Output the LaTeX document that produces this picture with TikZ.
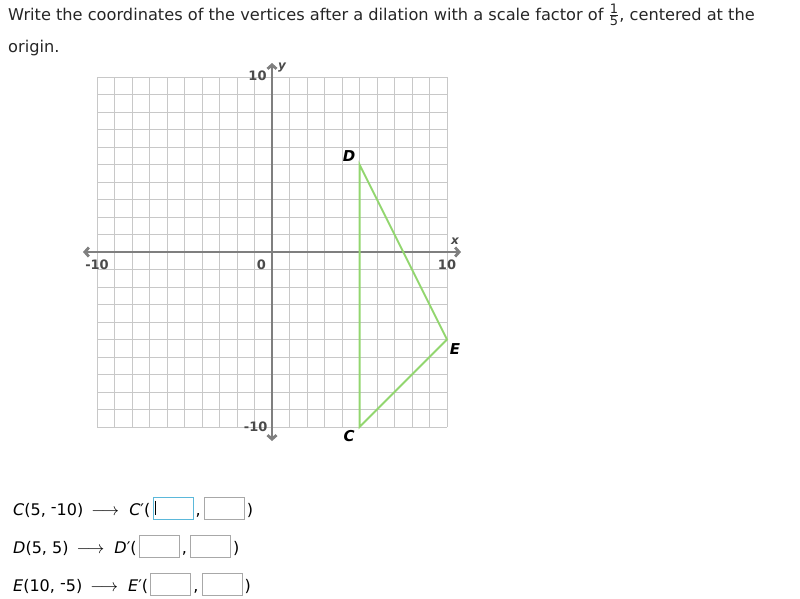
\documentclass[tikz,border=0pt]{standalone}
\usepackage{fontspec}
\setmainfont{DejaVu Sans}
\usetikzlibrary{positioning, arrows.meta}

\definecolor{axisgray}{HTML}{7F7F7F}
\definecolor{gridgray}{HTML}{C8C8C8}
\definecolor{trigreen}{HTML}{92D66F}
\definecolor{labgray}{HTML}{4A4A4A}
\definecolor{boxgray}{HTML}{A8A8A8}
\definecolor{focusblue}{HTML}{5BB8DA}

\newcommand{\hineg}{\raisebox{0.3ex}{-}}

\begin{document}
\begin{tikzpicture}[x=1pt, y=-1pt,
  prompt/.style={anchor=base west, inner sep=0pt, font=\fontsize{16.2}{19}\selectfont, text=black!85},
  axis/.style={axisgray, line width=2.8pt, {Straight Barb[length=4pt,width=9pt]}-{Straight Barb[length=4pt,width=9pt]}},
  axlab/.style={inner sep=0pt, text=labgray, font=\fontsize{13}{15}\selectfont\bfseries},
  vlab/.style={inner sep=0pt, font=\fontsize{15}{17}\selectfont\bfseries\itshape},
  rowtext/.style={inner sep=0pt, font=\fontsize{16}{19}\selectfont},
  ansbox/.style={draw=boxgray, line width=0.8pt, minimum width=40pt, minimum height=22pt, inner sep=0pt}]
\useasboundingbox (0,0) rectangle (800,598);

% question
\node[prompt] (line1) at (8,20) {Write the coordinates of the vertices after a dilation with a scale factor of $\frac{\mbox{\fontsize{13}{13}\selectfont 1}}{\mbox{\fontsize{13}{13}\selectfont 5}}$, centered at the};
\node[prompt] (line2) at (8,52) {origin.};

% graph
\begin{scope}[shift={(272,252)}, x=17.5pt, y=17.5pt]
\draw[gridgray, line width=0.8pt, step=1] (-10,-10) grid (10,10);
\draw[axis] (-10.8,0) -- (10.8,0);
\draw[axis] (0,-10.8) -- (0,10.8);
\node[axlab, anchor=east] (ytop) at (-0.3,10.05) {10};
\node[axlab, anchor=east] (ybot) at (-0.25,-10) {-10};
\node[axlab] (orig) at (-0.6,-0.74) {0};
\node[axlab] (xleft) at (-10,-0.74) {-10};
\node[axlab] (xright) at (10,-0.74) {10};
\node[axlab, font=\fontsize{12}{13}\selectfont\bfseries\itshape] (xname) at (10.46,0.63) {x};
\node[axlab, font=\fontsize{12}{13}\selectfont\bfseries\itshape] (yname) at (0.57,10.57) {y};

\coordinate (C) at (5,-10);
\coordinate (D) at (5,5);
\coordinate (E) at (10,-5);
\draw[trigreen, line width=2pt] (C) -- (D) -- (E) -- cycle;
\node[vlab] (Dlab) at (4.4,5.49) {D};
\node[vlab] (Clab) at (4.4,-10.51) {C};
\node[vlab] (Elab) at (10.46,-5.54) {E};
\end{scope}

% answers
\node[rowtext, anchor=base west] (ctxt) at (13,515) {\textit{C}(5, \hineg10)\hspace{3pt} $\longrightarrow$\hspace{10pt}\textit{C}′(};
\node[ansbox, draw=focusblue, right=2pt of ctxt, yshift=2pt] (cx) {};
\draw[black, line width=0.8pt] ([xshift=3pt,yshift=-4pt]cx.north west) -- ([xshift=3pt,yshift=4pt]cx.south west);
\node[rowtext, anchor=base west] (ccomma) at ([xshift=2pt]cx.east |- ctxt.base) {,};
\node[ansbox, right=3pt of ccomma.east |- cx] (cy) {};
\node[rowtext, anchor=base west] (cend) at ([xshift=2pt]cy.east |- ctxt.base) {)};

\node[rowtext, anchor=base west] (dtxt) at (13,553) {\textit{D}(5, 5)\hspace{3pt} $\longrightarrow$\hspace{10pt}\textit{D}′(};
\node[ansbox, right=2pt of dtxt, yshift=2pt] (dx) {};
\node[rowtext, anchor=base west] (dcomma) at ([xshift=2pt]dx.east |- dtxt.base) {,};
\node[ansbox, right=3pt of dcomma.east |- dx] (dy) {};
\node[rowtext, anchor=base west] (dend) at ([xshift=2pt]dy.east |- dtxt.base) {)};

\node[rowtext, anchor=base west] (etxt) at (13,591) {\textit{E}(10, \hineg5)\hspace{3pt} $\longrightarrow$\hspace{10pt}\textit{E}′(};
\node[ansbox, right=2pt of etxt, yshift=2pt] (ex) {};
\node[rowtext, anchor=base west] (ecomma) at ([xshift=2pt]ex.east |- etxt.base) {,};
\node[ansbox, right=3pt of ecomma.east |- ex] (ey) {};
\node[rowtext, anchor=base west] (eend) at ([xshift=2pt]ey.east |- etxt.base) {)};
\end{tikzpicture}
\end{document}
